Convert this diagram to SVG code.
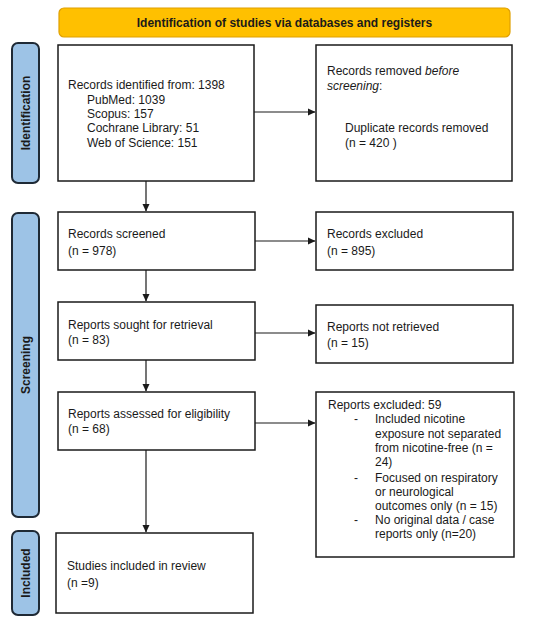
<svg xmlns="http://www.w3.org/2000/svg" width="550" height="624" viewBox="0 0 550 624">
<style>
.box{fill:#fff;stroke:#1a1a1a;stroke-width:1.5}
.side{fill:#9dc3e6;stroke:#1f2a36;stroke-width:2}
.t{font-family:"Liberation Sans",Arial,sans-serif;font-size:12px;fill:#1a1a1a}
.b{font-family:"Liberation Sans",Arial,sans-serif;font-size:12px;font-weight:bold;fill:#1a1a1a}
.c{stroke:#1a1a1a;stroke-width:1.2;fill:none;marker-end:url(#ah)}
</style>
<defs>
<marker id="ah" markerWidth="8" markerHeight="8" refX="7" refY="4" orient="auto" markerUnits="userSpaceOnUse">
<path d="M0,0.5 L7.5,4 L0,7.5 Z" fill="#1a1a1a"/>
</marker>
</defs>
<rect width="550" height="624" fill="#fff"/>
<g id="banner">
<rect x="59" y="8" width="451" height="29" rx="5" fill="#ffc000" stroke="#e0a000" stroke-width="1.2"/>
<text class="b" x="284.5" y="27" text-anchor="middle">Identification of studies via databases and registers</text>
</g>
<g id="side-identification">
<rect class="side" x="12" y="43" width="27" height="140" rx="6"/>
<text class="b" transform="translate(30,113) rotate(-90)" text-anchor="middle">Identification</text>
</g>
<g id="side-screening">
<rect class="side" x="12" y="213" width="27" height="304" rx="6"/>
<text class="b" transform="translate(30,365) rotate(-90)" text-anchor="middle">Screening</text>
</g>
<g id="side-included">
<rect class="side" x="12" y="531" width="27" height="84" rx="6"/>
<text class="b" transform="translate(30,573) rotate(-90)" text-anchor="middle">Included</text>
</g>
<g id="records-identified">
<rect class="box" x="58" y="45" width="196" height="136"/>
<text class="t" x="68" y="89">Records identified from: 1398</text>
<text class="t" x="87" y="104">PubMed: 1039</text>
<text class="t" x="87" y="118">Scopus: 157</text>
<text class="t" x="87" y="132">Cochrane Library: 51</text>
<text class="t" x="87" y="147">Web of Science: 151</text>
</g>
<g id="records-removed">
<rect class="box" x="316" y="45" width="196" height="136"/>
<text class="t" x="327" y="75">Records removed <tspan font-style="italic">before</tspan></text>
<text class="t" x="327" y="90"><tspan font-style="italic">screening</tspan>:</text>
<text class="t" x="345" y="132">Duplicate records removed</text>
<text class="t" x="345" y="147">(n = 420 )</text>
</g>
<g id="records-screened">
<rect class="box" x="58" y="212" width="197" height="58"/>
<text class="t" x="68" y="238">Records screened</text>
<text class="t" x="68" y="255">(n = 978)</text>
</g>
<g id="records-excluded">
<rect class="box" x="316" y="212" width="197" height="58"/>
<text class="t" x="327" y="238">Records excluded</text>
<text class="t" x="327" y="255">(n = 895)</text>
</g>
<g id="reports-sought">
<rect class="box" x="58" y="302" width="197" height="58"/>
<text class="t" x="68" y="329">Reports sought for retrieval</text>
<text class="t" x="68" y="344">(n = 83)</text>
</g>
<g id="reports-not-retrieved">
<rect class="box" x="316" y="305" width="197" height="58"/>
<text class="t" x="327" y="331">Reports not retrieved</text>
<text class="t" x="327" y="347">(n = 15)</text>
</g>
<g id="reports-assessed">
<rect class="box" x="58" y="392" width="197" height="58"/>
<text class="t" x="68" y="418">Reports assessed for eligibility</text>
<text class="t" x="68" y="433">(n = 68)</text>
</g>
<g id="reports-excluded">
<rect class="box" x="316" y="392" width="198" height="165"/>
<text class="t" x="328" y="409">Reports excluded: 59</text>
<text class="t" x="354" y="423">-</text>
<text class="t" x="375" y="423">Included nicotine</text>
<text class="t" x="375" y="438">exposure not separated</text>
<text class="t" x="375" y="452">from nicotine-free (n =</text>
<text class="t" x="375" y="466">24)</text>
<text class="t" x="354" y="482">-</text>
<text class="t" x="375" y="482">Focused on respiratory</text>
<text class="t" x="375" y="496">or neurological</text>
<text class="t" x="375" y="510">outcomes only (n = 15)</text>
<text class="t" x="354" y="524">-</text>
<text class="t" x="375" y="524">No original data / case</text>
<text class="t" x="375" y="538">reports only (n=20)</text>
</g>
<g id="studies-included">
<rect class="box" x="56" y="533" width="197" height="80"/>
<text class="t" x="67" y="570">Studies included in review</text>
<text class="t" x="67" y="587">(n =9)</text>
</g>
<g id="connectors">
<line class="c" x1="254" y1="112" x2="315" y2="112"/>
<line class="c" x1="146" y1="181" x2="146" y2="211"/>
<line class="c" x1="255" y1="241" x2="315" y2="241"/>
<line class="c" x1="146" y1="270" x2="146" y2="301"/>
<line class="c" x1="255" y1="333" x2="315" y2="333"/>
<line class="c" x1="146" y1="360" x2="146" y2="391"/>
<line class="c" x1="255" y1="423" x2="315" y2="423"/>
<line class="c" x1="146" y1="450" x2="146" y2="532"/>
</g>
</svg>
